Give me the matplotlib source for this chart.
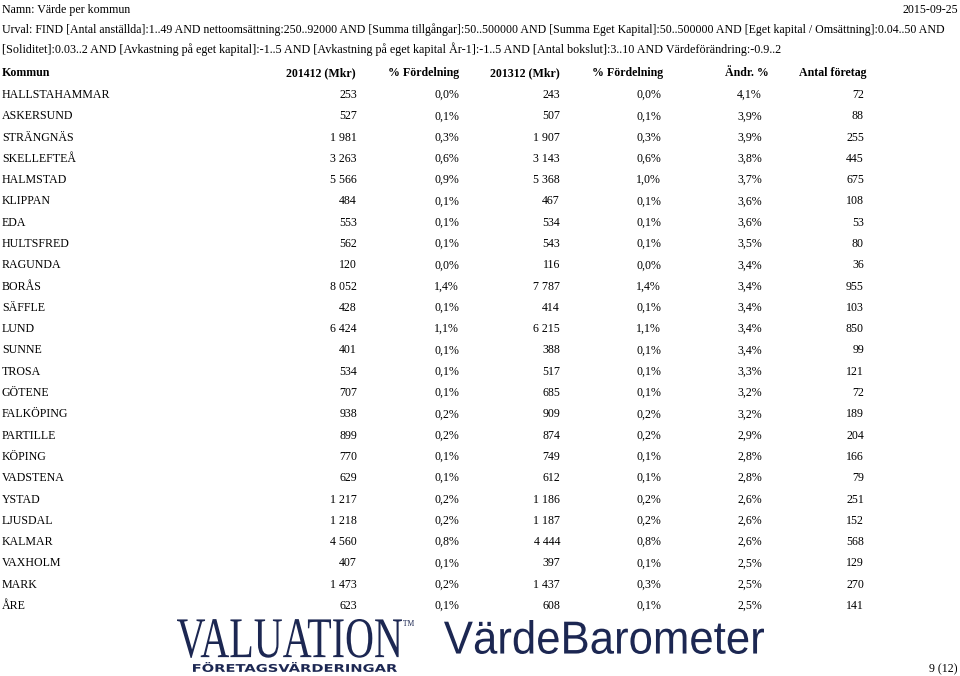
import matplotlib
matplotlib.use("Agg")
import matplotlib.pyplot as plt
from matplotlib.textpath import TextPath
from matplotlib.patches import PathPatch
from matplotlib.font_manager import FontProperties
from matplotlib.transforms import Affine2D

# table data
kommuner = ["HALLSTAHAMMAR", "ASKERSUND", "STRÄNGNÄS", "SKELLEFTEÅ", "HALMSTAD",
            "KLIPPAN", "EDA", "HULTSFRED", "RAGUNDA", "BORÅS", "SÄFFLE", "LUND",
            "SUNNE", "TROSA", "GÖTENE", "FALKÖPING", "PARTILLE", "KÖPING",
            "VADSTENA", "YSTAD", "LJUSDAL", "KALMAR", "VAXHOLM", "MARK", "ÅRE"]
varde_2014 = ["253", "527", "1 981", "3 263", "5 566", "484", "553", "562", "120",
              "8 052", "428", "6 424", "401", "534", "707", "938", "899", "770",
              "629", "1 217", "1 218", "4 560", "407", "1 473", "623"]
fordel_2014 = ["0,0%", "0,1%", "0,3%", "0,6%", "0,9%", "0,1%", "0,1%", "0,1%", "0,0%",
               "1,4%", "0,1%", "1,1%", "0,1%", "0,1%", "0,1%", "0,2%", "0,2%", "0,1%",
               "0,1%", "0,2%", "0,2%", "0,8%", "0,1%", "0,2%", "0,1%"]
varde_2013 = ["243", "507", "1 907", "3 143", "5 368", "467", "534", "543", "116",
              "7 787", "414", "6 215", "388", "517", "685", "909", "874", "749",
              "612", "1 186", "1 187", "4 444", "397", "1 437", "608"]
fordel_2013 = ["0,0%", "0,1%", "0,3%", "0,6%", "1,0%", "0,1%", "0,1%", "0,1%", "0,0%",
               "1,4%", "0,1%", "1,1%", "0,1%", "0,1%", "0,1%", "0,2%", "0,2%", "0,1%",
               "0,1%", "0,2%", "0,2%", "0,8%", "0,1%", "0,3%", "0,1%"]
andr = ["4,1%", "3,9%", "3,9%", "3,8%", "3,7%", "3,6%", "3,6%", "3,5%", "3,4%",
        "3,4%", "3,4%", "3,4%", "3,4%", "3,3%", "3,2%", "3,2%", "2,9%", "2,8%",
        "2,8%", "2,6%", "2,6%", "2,6%", "2,5%", "2,5%", "2,5%"]
antal = ["72", "88", "255", "445", "675", "108", "53", "80", "36", "955", "103",
         "850", "99", "121", "72", "189", "204", "166", "79", "251", "152", "568",
         "129", "270", "141"]
headers = ["Kommun", "201412 (Mkr)", "% Fördelning", "201312 (Mkr)",
           "% Fördelning", "Ändr. %", "Antal företag"]
urval_1 = ("Urval: FIND [Antal anställda]:1..49 AND nettoomsättning:250..92000 AND "
           "[Summa tillgångar]:50..500000 AND [Summa Eget Kapital]:50..500000 AND "
           "[Eget kapital / Omsättning]:0.04..50 AND")
urval_2 = ("[Soliditet]:0.03..2 AND [Avkastning på eget kapital]:-1..5 AND "
           "[Avkastning på eget kapital År-1]:-1..5 AND [Antal bokslut]:3..10 AND "
           "Värdeförändring:-0.9..2")

serif = "Liberation Serif"
fs = 8.6
navy = "#1c2752"

fig = plt.figure(figsize=(9.6, 6.76), dpi=100)
ax = fig.add_axes([0, 0, 1, 1])
ax.set_xlim(0, 960)
ax.set_ylim(676, 0)
ax.axis("off")
renderer = fig.canvas.get_renderer()


def txt(x, y, s, **kw):
    # y is the visual middle of the line; place text on a baseline below it
    return ax.text(x, y + 4, s, family=serif, fontsize=kw.pop("fontsize", fs),
                   va="baseline", **kw)


def fit_line(x, y, s, x_end):
    t = txt(x, y, s)
    w = t.get_window_extent(renderer).width
    t.set_fontsize(fs * (x_end - x) / w)


txt(2, 9, "Namn: Värde per kommun")
txt(958, 9, "2015-09-25", ha="right")
fit_line(2, 29, urval_1, 938)
fit_line(2, 49, urval_2, 775)

# header row
head_x = [2, 321, 424, 525, 628, 747, 833]
for i, h in enumerate(headers):
    txt(head_x[i], 72, h, fontweight="bold", ha="left" if i == 0 else "center")

# body rows
cols = [varde_2014, fordel_2014, varde_2013, fordel_2013, andr, antal]
right_x = [357, 459, 560, 661, 762, 864]
y0, dy = 94, 21.29
for r, k in enumerate(kommuner):
    y = y0 + r * dy
    txt(2, y, k)
    for c, vals in enumerate(cols):
        txt(right_x[c], y, vals[r], ha="right")

txt(958, 668, "9 (12)", ha="right")


# logos drawn as scaled text paths fitted into a pixel box
def fitted_text(s, x0, x1, ytop, ybot, prop, color=navy):
    tp = TextPath((0, 0), s, size=100, prop=prop)
    ext = tp.get_extents()
    sx = (x1 - x0) / ext.width
    sy = (ybot - ytop) / ext.height
    tr = Affine2D().translate(-ext.x0, -ext.y0).scale(sx, -sy).translate(x0, ybot)
    ax.add_patch(PathPatch(tr.transform_path(tp), facecolor=color, edgecolor="none"))


fitted_text("VALUATION", 177, 402, 619, 658, FontProperties(family=serif))
fitted_text("TM", 403, 414, 620, 626, FontProperties(family=serif))
fitted_text("FÖRETAGSVÄRDERINGAR", 193, 397, 662, 672,
            FontProperties(family="DejaVu Sans", weight="bold"))
fitted_text("VärdeBarometer", 444, 764, 620, 654, FontProperties(family="Liberation Sans"))

fig.savefig("out.png", dpi=100)
